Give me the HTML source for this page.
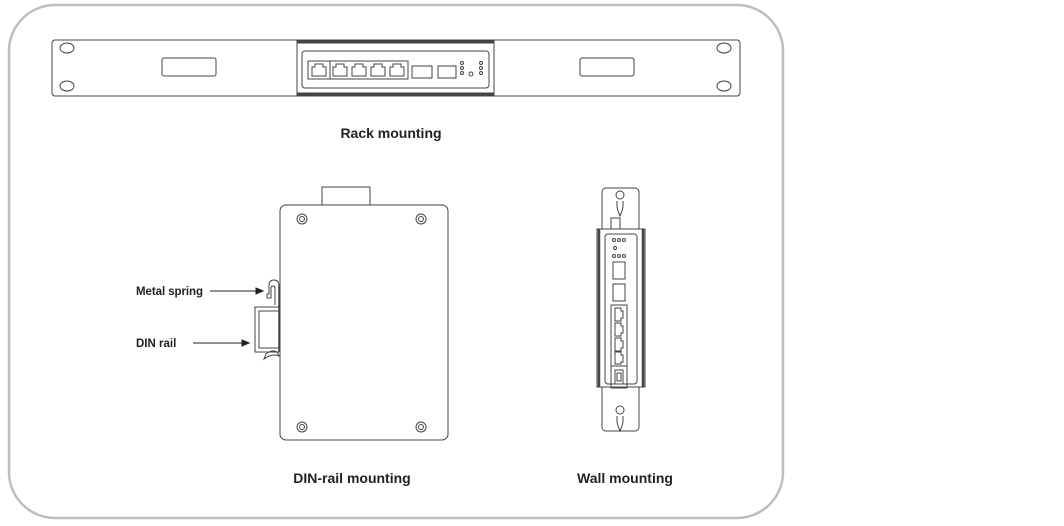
<!DOCTYPE html>
<html><head><meta charset="utf-8"><style>
html,body{margin:0;padding:0;background:#fff;}
svg{display:block}
text{font-family:"Liberation Sans",sans-serif;}
</style></head><body>
<svg width="1064" height="526" viewBox="0 0 1064 526" xmlns="http://www.w3.org/2000/svg">
<rect x="9" y="5" width="774" height="513" rx="46" fill="#fff" stroke="#bdbdbd" stroke-width="2.5"/>
<g fill="none" stroke="#444" stroke-width="1">
<!-- rack -->
<rect x="52" y="40" width="688" height="56" rx="3"/>
<ellipse cx="67" cy="48" rx="7" ry="5"/><ellipse cx="67" cy="86" rx="7" ry="5"/>
<ellipse cx="724" cy="48" rx="7" ry="5"/><ellipse cx="724" cy="86" rx="7" ry="5"/>
<rect x="162" y="58" width="54" height="18" rx="2"/>
<rect x="580" y="58" width="54" height="18" rx="2"/>
<rect x="297" y="40" width="197" height="56" fill="#fff"/>
<line x1="297" y1="42" x2="494" y2="42" stroke-width="3"/>
<line x1="297" y1="94" x2="494" y2="94" stroke-width="3"/>
<rect x="302" y="51" width="187" height="37" rx="3"/>
<rect x="308" y="61" width="100" height="18"/>
<line x1="330" y1="61" x2="330" y2="79"/>
<path d="M312 76v-9h3v-3h8v3h3v9z"/>
<path d="M333 76v-9h3v-3h8v3h3v9z"/>
<path d="M352 76v-9h3v-3h8v3h3v9z"/>
<path d="M371 76v-9h3v-3h8v3h3v9z"/>
<path d="M390 76v-9h3v-3h8v3h3v9z"/>
<rect x="412" y="66" width="20" height="12"/>
<rect x="438" y="66" width="18" height="12"/>
<circle cx="462" cy="63" r="1.5"/><circle cx="462" cy="68" r="1.5"/><circle cx="462" cy="73" r="1.5"/>
<circle cx="471" cy="74" r="2"/>
<circle cx="481" cy="63" r="1.5"/><circle cx="481" cy="68" r="1.5"/><circle cx="481" cy="73" r="1.5"/>
<!-- DIN -->
<rect x="322" y="187" width="48" height="18"/>
<rect x="280" y="205" width="168" height="235" rx="6" fill="#fff"/>
<circle cx="302" cy="219" r="5"/><circle cx="302" cy="219" r="2.5"/>
<circle cx="421" cy="219" r="5"/><circle cx="421" cy="219" r="2.5"/>
<circle cx="302" cy="427" r="5"/><circle cx="302" cy="427" r="2.5"/>
<circle cx="421" cy="427" r="5"/><circle cx="421" cy="427" r="2.5"/>
<path d="M279 305v-19q0-6-5-6t-5 6v8h-2v4h4v-10q0-2 2-2t2 2v17"/>
<path d="M279 307h-24v45h24M279 311h-20v37h20"/>
<path d="M277 352q-5-3-11 2l-2 5q8-6 15-3z"/>
<line x1="279" y1="286" x2="279" y2="352" stroke-width="1.5"/>
<!-- wall -->
<rect x="602" y="188" width="37" height="243" rx="4"/>
<circle cx="620" cy="195" r="4"/><path d="M617 201v5q0 3 3 10q3-7 3-10v-5"/>
<circle cx="620" cy="410" r="4"/><path d="M617 416v5q0 3 3 10q3-7 3-10v-5"/>
<rect x="611" y="218" width="9" height="11"/>
<rect x="597" y="229" width="48" height="158" fill="#fff"/>
<line x1="599" y1="229" x2="599" y2="387" stroke-width="2.5"/>
<line x1="643" y1="229" x2="643" y2="387" stroke-width="2.5"/>
<rect x="605" y="234" width="32" height="150" rx="3"/>
<circle cx="614" cy="240" r="1.5"/><circle cx="619" cy="240" r="1.5"/><circle cx="624" cy="240" r="1.5"/>
<circle cx="615" cy="248" r="1.5"/>
<circle cx="614" cy="256" r="1.5"/><circle cx="619" cy="256" r="1.5"/><circle cx="624" cy="256" r="1.5"/>
<rect x="613" y="262" width="12" height="17"/>
<rect x="613" y="284" width="12" height="17"/>
<rect x="611" y="305" width="16" height="83"/>
<line x1="611" y1="366" x2="627" y2="366"/>
<path d="M615 308h6v3h2v7h-2v3h-6z"/>
<path d="M615 323h6v3h2v7h-2v3h-6z"/>
<path d="M615 338h6v3h2v7h-2v3h-6z"/>
<path d="M615 352h6v3h2v7h-2v2h-6z"/>
<path d="M615 370h8v14h-8z"/>
<path d="M617 373h4v8h-4z"/>
</g>
<!-- arrows -->
<g stroke="#222" stroke-width="1" fill="#222">
<line x1="210" y1="291" x2="257" y2="291"/><path d="M263 291l-7-3v6z"/>
<line x1="193" y1="343" x2="243" y2="343"/><path d="M249 343l-7-3v6z"/>
</g>
<g fill="#222">
<text x="136" y="295" font-size="11.5" font-weight="bold" textLength="67">Metal spring</text>
<text x="136" y="347" font-size="11.5" font-weight="bold">DIN rail</text>
<text x="391" y="138" font-size="14" font-weight="bold" text-anchor="middle">Rack mounting</text>
<text x="352" y="483" font-size="14" font-weight="bold" text-anchor="middle">DIN-rail mounting</text>
<text x="625" y="483" font-size="14" font-weight="bold" text-anchor="middle">Wall mounting</text>
</g>
</svg>
</body></html>
